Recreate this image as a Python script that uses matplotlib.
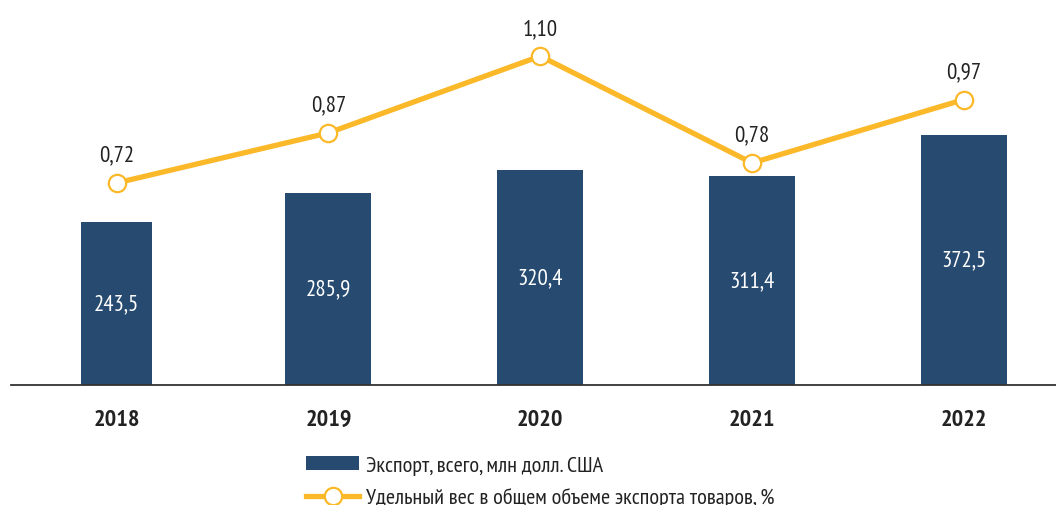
import matplotlib
matplotlib.use("Agg")
import matplotlib.pyplot as plt
from matplotlib.lines import Line2D
from matplotlib.patches import Patch

plt.rcParams['font.family'] = ['PT Sans Narrow', 'DejaVu Sans']

years = ["2018", "2019", "2020", "2021", "2022"]
export_values = [243.5, 285.9, 320.4, 311.4, 372.5]
share_values = [0.72, 0.87, 1.10, 0.78, 0.97]
bar_label = "Экспорт, всего, млн долл. США"
line_label = "Удельный вес в общем объеме экспорта товаров, %"

bar_color = "#264a70"
line_color = "#fbb829"
text_color = "#222222"

fig = plt.figure(figsize=(10.56, 5.06), dpi=100)
ax = fig.add_axes([11/1056, (506-386)/506, 1-11/1056, 386/506])
x = list(range(len(years)))
widths = [0.335, 0.406, 0.406, 0.406, 0.406]
ax.bar(x, export_values, width=widths, color=bar_color, zorder=2)
for xi, v in zip(x, export_values):
    ax.text(xi, v/2, f"{v:.1f}".replace(".", ","), ha="center", va="center",
            color="white", fontsize=16.5)
ax.set_ylim(0, 575)
ax.set_xlim(-0.498, 4.434)
for s in ["top", "right", "left"]:
    ax.spines[s].set_visible(False)
ax.spines["bottom"].set_color("#333333")
ax.spines["bottom"].set_linewidth(1.3)
ax.set_yticks([])
ax.set_xticks(x)
ax.set_xticklabels(years, fontsize=17.5, fontweight="bold", color=text_color)
ax.tick_params(axis="x", length=0, pad=17)

ax2 = ax.twinx()
ax2.set_ylim(0.115, 1.271)
ax2.set_yticks([])
for s in ax2.spines.values():
    s.set_visible(False)
ax2.plot(x, share_values, color=line_color, lw=3.8, marker="o", ms=12.5,
         mfc="white", mec=line_color, mew=1.6, zorder=3)
for xi, v in zip(x, share_values):
    ax2.annotate(f"{v:.2f}".replace(".", ","), (xi, v), xytext=(0, 20),
                 textcoords="offset points", ha="center", va="center",
                 fontsize=16.5, color=text_color)

handles = [Patch(facecolor=bar_color, edgecolor="none"),
           Line2D([0], [0], color=line_color, lw=3.8, marker="o", ms=12.5,
                  mfc="white", mec=line_color, mew=1.6)]
fig.legend(handles, [bar_label, line_label], loc="upper left",
           bbox_to_anchor=(306/1056, 1-457/506), frameon=False, fontsize=16,
           handlelength=2.4, handleheight=0.55, handletextpad=0.3, labelspacing=0.55,
           labelcolor=text_color, borderaxespad=0, borderpad=0)

fig.savefig("out.png", dpi=100)
